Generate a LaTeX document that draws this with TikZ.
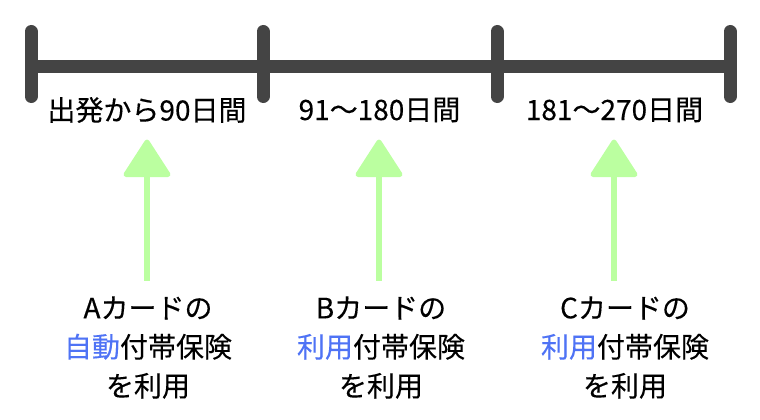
\documentclass[tikz,border=0pt]{standalone}
\usepackage{fontspec}
\setmainfont{Noto Sans CJK JP}[RawFeature={embolden=0.25}]
\definecolor{barc}{HTML}{444444}
\definecolor{arrc}{HTML}{BBFFA0}
\definecolor{bluec}{HTML}{4F73F5}
\begin{document}
\begin{tikzpicture}[x=1pt,y=-1pt,
 barh/.style={line width=13pt,color=barc},
 bar/.style={line width=13pt,color=barc,line cap=round},
 lab/.style={font=\fontsize{28}{28}\selectfont,text=black,inner sep=0pt,anchor=center},
 note/.style={lab,align=center,font=\fontsize{28}{39}\selectfont},
 shaft/.style={line width=6pt,color=arrc},
 head/.style={fill=arrc,draw=arrc,line width=5pt,line join=round}]
\useasboundingbox (0,0) rectangle (760,420);
\coordinate (L0) at (31,66.5); \coordinate (L1) at (263,66.5); \coordinate (L2) at (497,66.5); \coordinate (L3) at (730,66.5);
\draw[barh] (L0) -- (L3);
\foreach \n in {L0,L1,L2,L3}{\draw[bar] ([yshift=35]\n) -- ([yshift=-30]\n);}
\node[lab] (t1) at (147,110) {出発から90日間};
\node[lab] (t2) at (379.5,110) {91～180日間};
\node[lab] (t3) at (614.5,110) {181～270日間};
\coordinate (a1) at (147,170);\coordinate (a2) at (379,170);\coordinate (a3) at (614,170);
\node[note] (n1) at (148,347.5) {Aカードの\\{\color{bluec}自動}付帯保険\\を利用};
\node[note] (n2) at (381,347.5) {Bカードの\\{\color{bluec}利用}付帯保険\\を利用};
\node[note] (n3) at (625,347.5) {Cカードの\\{\color{bluec}利用}付帯保険\\を利用};
\foreach \a/\x in {a1/147,a2/379,a3/614}{
 \draw[shaft] (\a) -- (\x,281);
 \draw[head] (\x,142) -- (\x+21,174.5) -- (\x-21,174.5) -- cycle;
}
\end{tikzpicture}
\end{document}
